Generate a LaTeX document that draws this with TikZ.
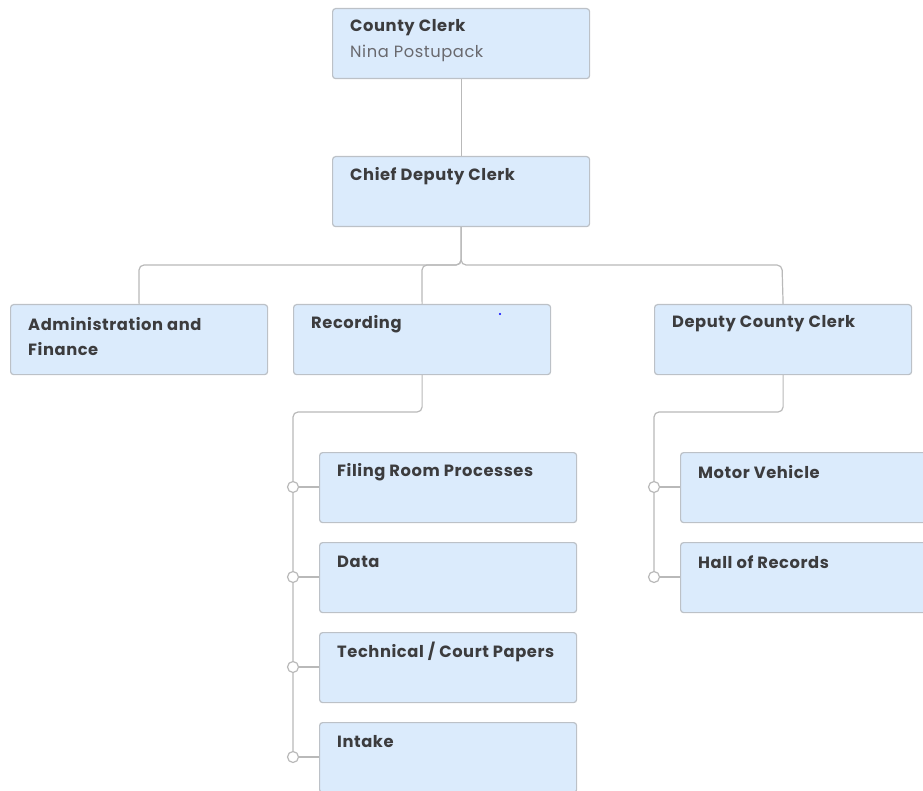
\documentclass[tikz,border=0pt]{standalone}
\usepackage{fontspec}
\setmainfont{Poppins}[LetterSpace=3.5]
\usetikzlibrary{calc}
\definecolor{boxfill}{RGB}{219,235,252}
\definecolor{boxline}{RGB}{188,193,199}
\definecolor{wire}{RGB}{185,185,185}
\definecolor{ink}{RGB}{60,60,62}
\definecolor{subink}{RGB}{105,105,110}
\tikzset{
  unit/.style={draw=boxline, line width=1.2pt, fill=boxfill, rounded corners=3pt,
    rectangle, anchor=north west, minimum width=257pt, minimum height=70pt, inner sep=0pt},
  title/.style={anchor=west, inner sep=0pt, text=ink, font=\fontsize{16.3}{19}\selectfont\bfseries},
  sub/.style={anchor=west, inner sep=0pt, text=subink, font=\fontsize{16.3}{19}\selectfont},
  wire/.style={draw=wire, line width=1.2pt, rounded corners=5pt},
  knob/.style={circle, draw=wire, line width=1.2pt, fill=white, minimum size=11pt, inner sep=0pt},
}
\newcommand{\unitbox}[4]{%
  \node[unit] (#1) at (#2,#3) {};
  \node[title] (#1-t) at ($(#1.north west)+(18pt,-20pt)$) {#4};
}
\begin{document}
\begin{tikzpicture}[x=1pt,y=-1pt]
\useasboundingbox (0,0) rectangle (923,791);
\clip (0,0) rectangle (923,791);

% top of the chart
\unitbox{cc}{332}{8}{County Clerk}
\node[sub] (cc-s) at ($(cc.north west)+(18pt,-45pt)$) {Nina Postupack};
\unitbox{cdc}{332}{156}{Chief Deputy Clerk}

% second level
\node[unit] (adm) at (10,304) {};
\node[title] (adm-t) at ($(adm.north west)+(18pt,-20pt)$) {Administration and};
\node[title] (adm-t2) at ($(adm.north west)+(18pt,-45pt)$) {Finance};
\unitbox{rec}{293}{304}{Recording}
\unitbox{dcc}{654}{304}{Deputy County Clerk}

% recording sections
\unitbox{fil}{319}{452}{Filing Room Processes}
\unitbox{dat}{319}{542}{Data}
\unitbox{tec}{319}{632}{Technical / Court Papers}
\unitbox{int}{319}{722}{Intake}

% deputy county clerk sections
\unitbox{mv}{680}{452}{Motor Vehicle}
\unitbox{hor}{680}{542}{Hall of Records}

% stray dot
\fill[blue] (500,314) circle (1.2pt);

% connectors
\draw[wire] (cc.south) -- (cdc.north);
\draw[wire] (cdc.south) |- (139,265) -- (adm.north);
\draw[wire] (cdc.south) |- (422,265) -- (rec.north);
\draw[wire] (cdc.south) |- (782,265) -- (dcc.north);

% recording bus
\coordinate (rk1) at (293,487);
\coordinate (rk2) at (293,577);
\coordinate (rk3) at (293,667);
\coordinate (rk4) at (293,757);
\draw[wire] (rec.south) |- (293,412) -- (rk4);
\draw[wire] (rk1) -- (fil.west |- rk1);
\draw[wire] (rk2) -- (dat.west |- rk2);
\draw[wire] (rk3) -- (tec.west |- rk3);
\draw[wire] (rk4) -- (int.west |- rk4);
\foreach \k in {rk1,rk2,rk3,rk4} \node[knob] at (\k) {};

% deputy bus
\coordinate (dk1) at (654,487);
\coordinate (dk2) at (654,577);
\draw[wire] (dcc.south) |- (654,412) -- (dk2);
\draw[wire] (dk1) -- (mv.west |- dk1);
\draw[wire] (dk2) -- (hor.west |- dk2);
\foreach \k in {dk1,dk2} \node[knob] at (\k) {};
\end{tikzpicture}
\end{document}
